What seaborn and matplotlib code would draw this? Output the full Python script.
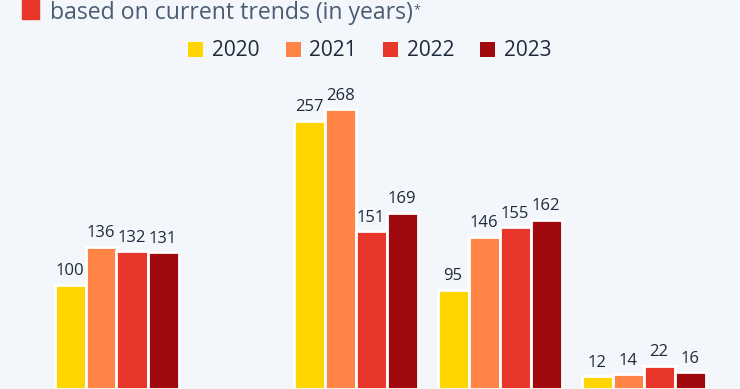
import matplotlib
matplotlib.use("Agg")
import matplotlib.pyplot as plt
import seaborn as sns
import pandas as pd
from matplotlib.patches import Rectangle

# ---- data ----
categories = ["Group A", "Group B", "Group C", "Group D"]
years = ["2020", "2021", "2022", "2023"]
values_2020 = [100, 257, 95, 12]
values_2021 = [136, 268, 146, 14]
values_2022 = [132, 151, 155, 22]
values_2023 = [131, 169, 162, 16]

# ---- layout / style ----
group_slots = [0.0, 1.66, 2.66, 3.66]   # horizontal slot of each group
palette = ["#FFD500", "#FF8446", "#E8372A", "#A0090E"]
bg = "#F3F6FA"
text_dark = "#1E2B3C"
title_col = "#4A5C74"

rows = []
for yr, vals in zip(years, [values_2020, values_2021, values_2022, values_2023]):
    for cat, slot, v in zip(categories, group_slots, vals):
        rows.append({"category": cat, "slot": slot, "year": yr, "value": v})
df = pd.DataFrame(rows)

sns.set_theme(style="white")
plt.rcParams["font.family"] = ["Open Sans", "DejaVu Sans"]

W, H = 740, 389
fig = plt.figure(figsize=(W / 100, H / 100), dpi=100)
fig.patch.set_facecolor(bg)
ax = fig.add_axes([0, 0, 1, 1])
ax.set_facecolor(bg)

sns.barplot(data=df, x="slot", y="value", hue="year", hue_order=years,
            palette=palette, saturation=1, native_scale=True, orient="x",
            width=124 / 144, edgecolor="white", linewidth=2.0, ax=ax,
            errorbar=None)

for cont in ax.containers:
    ax.bar_label(cont, padding=4, fontsize=12, fontweight=500, color=text_dark)

ax.set_xlim(-116.5 / 144, (W - 116.5) / 144)
ax.set_ylim(0, 372.6)
ax.set_xlabel("")
ax.set_ylabel("")
ax.set_xticks([])
ax.set_yticks([])
for s in ax.spines.values():
    s.set_visible(False)

handles, labels = ax.get_legend_handles_labels()
ax.get_legend().remove()
leg = fig.legend(handles, labels, ncol=4, loc="center",
                 bbox_to_anchor=(370 / W, 1 - 51 / H), frameon=False,
                 fontsize=15, handlelength=0.72, handleheight=0.72,
                 handletextpad=0.42, columnspacing=1.25, labelcolor=text_dark)
for h in leg.legend_handles:
    h.set_edgecolor("none")

# partial title line
fig.patches.append(Rectangle((22 / W, 1 - 19 / H), 17 / W, 21 / H,
                             transform=fig.transFigure, color="#E8372A"))
t = fig.text(50 / W, 1 - 19 / H, "based on current trends (in years)",
             fontsize=16.6, color=title_col, va="baseline", ha="left")
fig.canvas.draw()
bb = t.get_window_extent()
fig.text(bb.x1 / W + 1 / W, 1 - 13 / H, "*", fontsize=9, color=title_col,
         va="baseline", ha="left")

fig.savefig("out.png", dpi=100, facecolor=bg)
